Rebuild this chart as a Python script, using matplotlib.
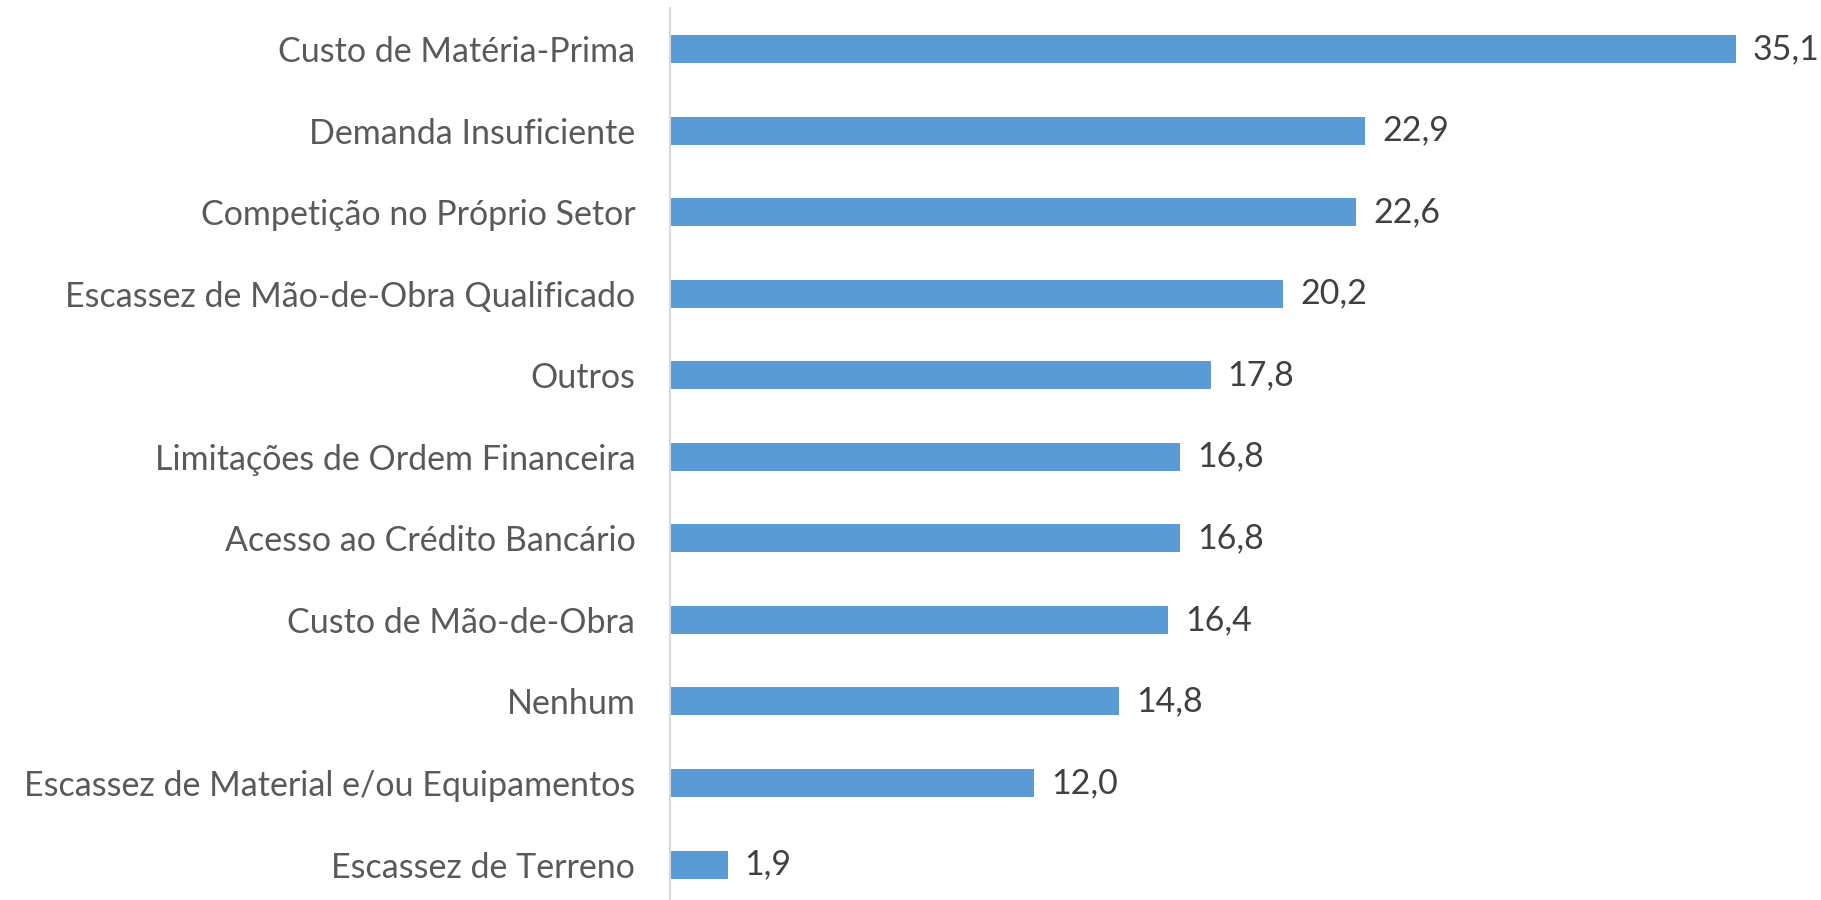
import matplotlib
matplotlib.use("Agg")
import matplotlib.pyplot as plt

categories = [
    "Custo de Matéria-Prima",
    "Demanda Insuficiente",
    "Competição no Próprio Setor",
    "Escassez de Mão-de-Obra Qualificado",
    "Outros",
    "Limitações de Ordem Financeira",
    "Acesso ao Crédito Bancário",
    "Custo de Mão-de-Obra",
    "Nenhum",
    "Escassez de Material e/ou Equipamentos",
    "Escassez de Terreno",
]
values = [35.1, 22.9, 22.6, 20.2, 17.8, 16.8, 16.8, 16.4, 14.8, 12.0, 1.9]
value_labels = ["35,1", "22,9", "22,6", "20,2", "17,8", "16,8", "16,8", "16,4", "14,8", "12,0", "1,9"]

plt.rcParams['font.family'] = ['Lato', 'DejaVu Sans']

W, H = 1821, 900
fig = plt.figure(figsize=(W / 100, H / 100), dpi=100)
ax_left, ax_right = 670, 1821
ax_top, ax_bottom = 8, 900
ax = fig.add_axes([ax_left / W, 1 - ax_bottom / H, (ax_right - ax_left) / W, (ax_bottom - ax_top) / H])

px_per_unit = (1736 - 670) / 35.1
ax.set_xlim(0, (ax_right - ax_left) / px_per_unit)
step = (864.5 - 49) / 10
ax.set_ylim(10 + (ax_bottom - 864.5) / step, -(49 - ax_top) / step)

ypos = list(range(len(categories)))
ax.barh(ypos, values, height=28 / step, color="#5B9BD5", zorder=2)
for y, v, lab in zip(ypos, values, value_labels):
    ax.annotate(lab, (v, y), xytext=(12, 0), textcoords="offset points",
                va="center", ha="left", fontsize=24.5, color="#404040")

ax.set_yticks(ypos)
ax.set_yticklabels(categories, fontsize=24.5, color="#595959")
ax.tick_params(axis="y", length=0, pad=25)
ax.set_xticks([])
for s in ["top", "right", "bottom"]:
    ax.spines[s].set_visible(False)
ax.spines["left"].set_color("#D9D9D9")
ax.spines["left"].set_linewidth(1.5)

fig.savefig("out.png", dpi=100)
